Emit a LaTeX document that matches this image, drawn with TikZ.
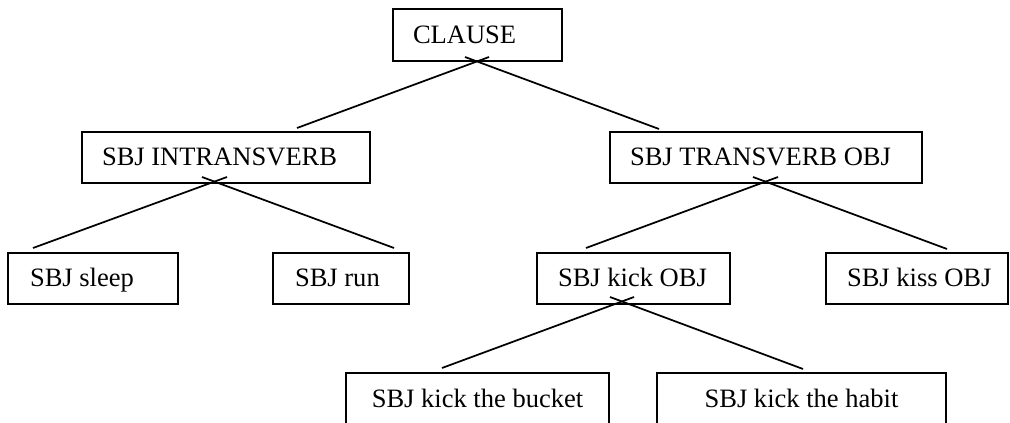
\documentclass[tikz,border=0pt]{standalone}
\usepackage{fontspec}
\setmainfont{Liberation Serif}
\newdimen\pxu \pxu=0.75pt
% label padded from the left edge of a box of given width
\newcommand\padl[3]{\makebox[#1\pxu][l]{\hspace*{#2\pxu}#3}}
\newcommand\midl[2]{\makebox[#1\pxu][c]{#2}}
\begin{document}
\begin{tikzpicture}[x=0.75pt,y=-0.75pt,
  box/.style={draw, line width=1.3pt, rectangle, inner sep=0pt, outer sep=0pt,
    minimum height=51\pxu, anchor=north west, text height=22\pxu, text depth=5\pxu,
    font=\fontsize{19.9}{24}\selectfont},
  link/.style={line width=1.3pt}]
\useasboundingbox (0,0) rectangle (1010,423);
\clip (0,0) rectangle (1010,423);

% boxes
\node[box, minimum height=52\pxu] (clause) at (393,9) {\padl{169}{20}{CLAUSE}};
\node[box] (intr) at (82,132) {\padl{288}{20}{SBJ INTRANSVERB}};
\node[box] (trans) at (610,132) {\padl{312}{20}{SBJ TRANSVERB OBJ}};
\node[box] (sleep) at (8,253) {\padl{170}{22}{SBJ sleep}};
\node[box] (run) at (273,253) {\padl{136}{22}{SBJ run}};
\node[box] (kick) at (537,253) {\padl{193}{21}{SBJ kick OBJ}};
\node[box] (kiss) at (826,253) {\padl{182}{21}{SBJ kiss OBJ}};
\node[box, minimum height=53\pxu] (bucket) at (346,373) {\midl{263}{SBJ kick the bucket}};
\node[box, minimum height=53\pxu] (habit) at (657,373) {\midl{289}{SBJ kick the habit}};

% connector end points
\coordinate (clauseL) at (489,57);  \coordinate (intrT)   at (297,128);
\coordinate (clauseR) at (465,57);  \coordinate (transT)  at (659,129);
\coordinate (intrL)   at (227,177); \coordinate (sleepT)  at (33,248);
\coordinate (intrR)   at (202,177); \coordinate (runT)    at (394,248);
\coordinate (transL)  at (778,177); \coordinate (kickT)   at (586,248);
\coordinate (transR)  at (753,177); \coordinate (kissT)   at (947,249);
\coordinate (kickL)   at (634,297); \coordinate (bucketT) at (442,368);
\coordinate (kickR)   at (610,297); \coordinate (habitT)  at (803,369);

% connectors
\draw[link] (clauseL) -- (intrT);
\draw[link] (clauseR) -- (transT);
\draw[link] (intrL) -- (sleepT);
\draw[link] (intrR) -- (runT);
\draw[link] (transL) -- (kickT);
\draw[link] (transR) -- (kissT);
\draw[link] (kickL) -- (bucketT);
\draw[link] (kickR) -- (habitT);
\end{tikzpicture}
\end{document}
